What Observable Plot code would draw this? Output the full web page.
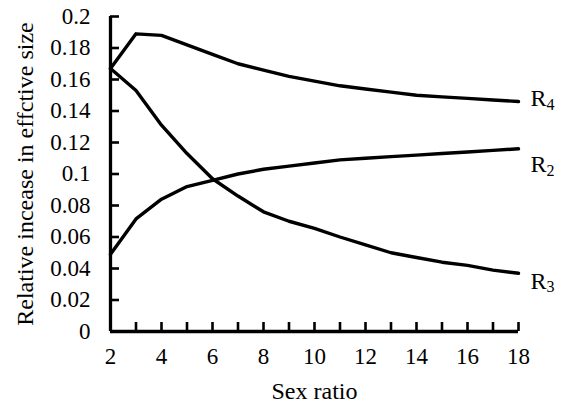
<!DOCTYPE html>
<html>
<head>
<meta charset="utf-8">
<script src="https://cdn.jsdelivr.net/npm/d3@7"></script>
<script src="https://cdn.jsdelivr.net/npm/@observablehq/plot@0.6"></script>
<style>
  html, body { margin: 0; padding: 0; background: #fff; }
  svg, svg text { font-family: 'Liberation Serif', 'Times New Roman', serif !important; }
</style>
</head>
<body>
<div id="chart"></div>
<script>
// Sex ratio values (x)
const sexRatio = [2, 3, 4, 5, 6, 7, 8, 9, 10, 11, 12, 13, 14, 15, 16, 17, 18];
// Relative increase in effective size for each series
const R2 = [0.049, 0.0715, 0.084, 0.092, 0.096, 0.100, 0.103, 0.105, 0.107, 0.109, 0.110, 0.111, 0.112, 0.113, 0.114, 0.115, 0.116];
const R3 = [0.167, 0.153, 0.131, 0.113, 0.097, 0.086, 0.076, 0.070, 0.0655, 0.060, 0.055, 0.050, 0.047, 0.044, 0.042, 0.039, 0.037];
const R4 = [0.167, 0.189, 0.188, 0.182, 0.176, 0.170, 0.166, 0.162, 0.159, 0.156, 0.154, 0.152, 0.150, 0.149, 0.148, 0.147, 0.146];
const seriesNames = ["R2", "R3", "R4"];
const seriesSubs = ["2", "3", "4"];
// Tick values
const xTicks = [2, 3, 4, 5, 6, 7, 8, 9, 10, 11, 12, 13, 14, 15, 16, 17, 18];
const xTickLabels = [2, 4, 6, 8, 10, 12, 14, 16, 18];
const yTicks = [0, 0.02, 0.04, 0.06, 0.08, 0.1, 0.12, 0.14, 0.16, 0.18, 0.2];
const xLabel = "Sex ratio";
const yLabel = "Relative incease in effctive size";

const seriesValues = [R2, R3, R4];
const data = [];
seriesValues.forEach((vals, i) => {
  vals.forEach((v, j) => data.push({series: seriesNames[i], x: sexRatio[j], y: v}));
});
const ends = seriesValues.map((vals, i) => ({
  series: seriesNames[i], sub: seriesSubs[i],
  x: sexRatio[sexRatio.length - 1], y: vals[vals.length - 1]
}));
const endOf = name => ends.filter(d => d.series === name);

const ink = "#000";
const font = "'Liberation Serif', 'Times New Roman', serif";

function label(name, dy) {
  return [
    Plot.text(endOf(name), {x: "x", y: "y", text: () => "R", dx: 12, dy, textAnchor: "start", lineAnchor: "middle", fontSize: 24, fontFamily: font, fill: ink}),
    Plot.text(endOf(name), {x: "x", y: "y", text: "sub", dx: 28, dy: dy + 6, textAnchor: "start", lineAnchor: "middle", fontSize: 16, fontFamily: font, fill: ink})
  ];
}

const chart = Plot.plot({
  width: 567,
  height: 413,
  marginLeft: 110,
  marginRight: 49,
  marginTop: 16,
  marginBottom: 82,
  style: {fontFamily: font, background: "#fff", color: ink},
  x: {domain: [2, 18]},
  y: {domain: [0, 0.2]},
  marks: [
    Plot.axisY(yTicks, {anchor: "left", tickSize: 0, tickPadding: 20, fontSize: 23, fontFamily: font, tickFormat: d => String(d), label: null, fill: ink}),
    Plot.axisX(xTickLabels, {anchor: "bottom", tickSize: 0, tickPadding: 16, fontSize: 23, fontFamily: font, tickFormat: d => String(d), label: null, fill: ink}),
    Plot.tickY(yTicks, {y: d => d, insetRight: 399, stroke: ink, strokeWidth: 2.6}),
    Plot.tickX(xTicks, {x: d => d, insetTop: 306, stroke: ink, strokeWidth: 2.6}),
    Plot.ruleX([2], {stroke: ink, strokeWidth: 3.3}),
    Plot.ruleY([0], {stroke: ink, strokeWidth: 3.3}),
    Plot.line(data, {x: "x", y: "y", z: "series", stroke: ink, strokeWidth: 3.4, strokeLinejoin: "round"}),
    ...label("R4", -3),
    ...label("R2", 16),
    ...label("R3", 8),
    Plot.text([xLabel], {frameAnchor: "bottom", dy: 60, text: d => d, fontSize: 24, fontFamily: font, lineAnchor: "middle", fill: ink}),
    Plot.text([yLabel], {frameAnchor: "left", dx: -85, rotate: -90, text: d => d, fontSize: 24, fontFamily: font, lineAnchor: "middle", textAnchor: "middle", fill: ink})
  ]
});
document.getElementById("chart").appendChild(chart);
</script>
</body>
</html>
